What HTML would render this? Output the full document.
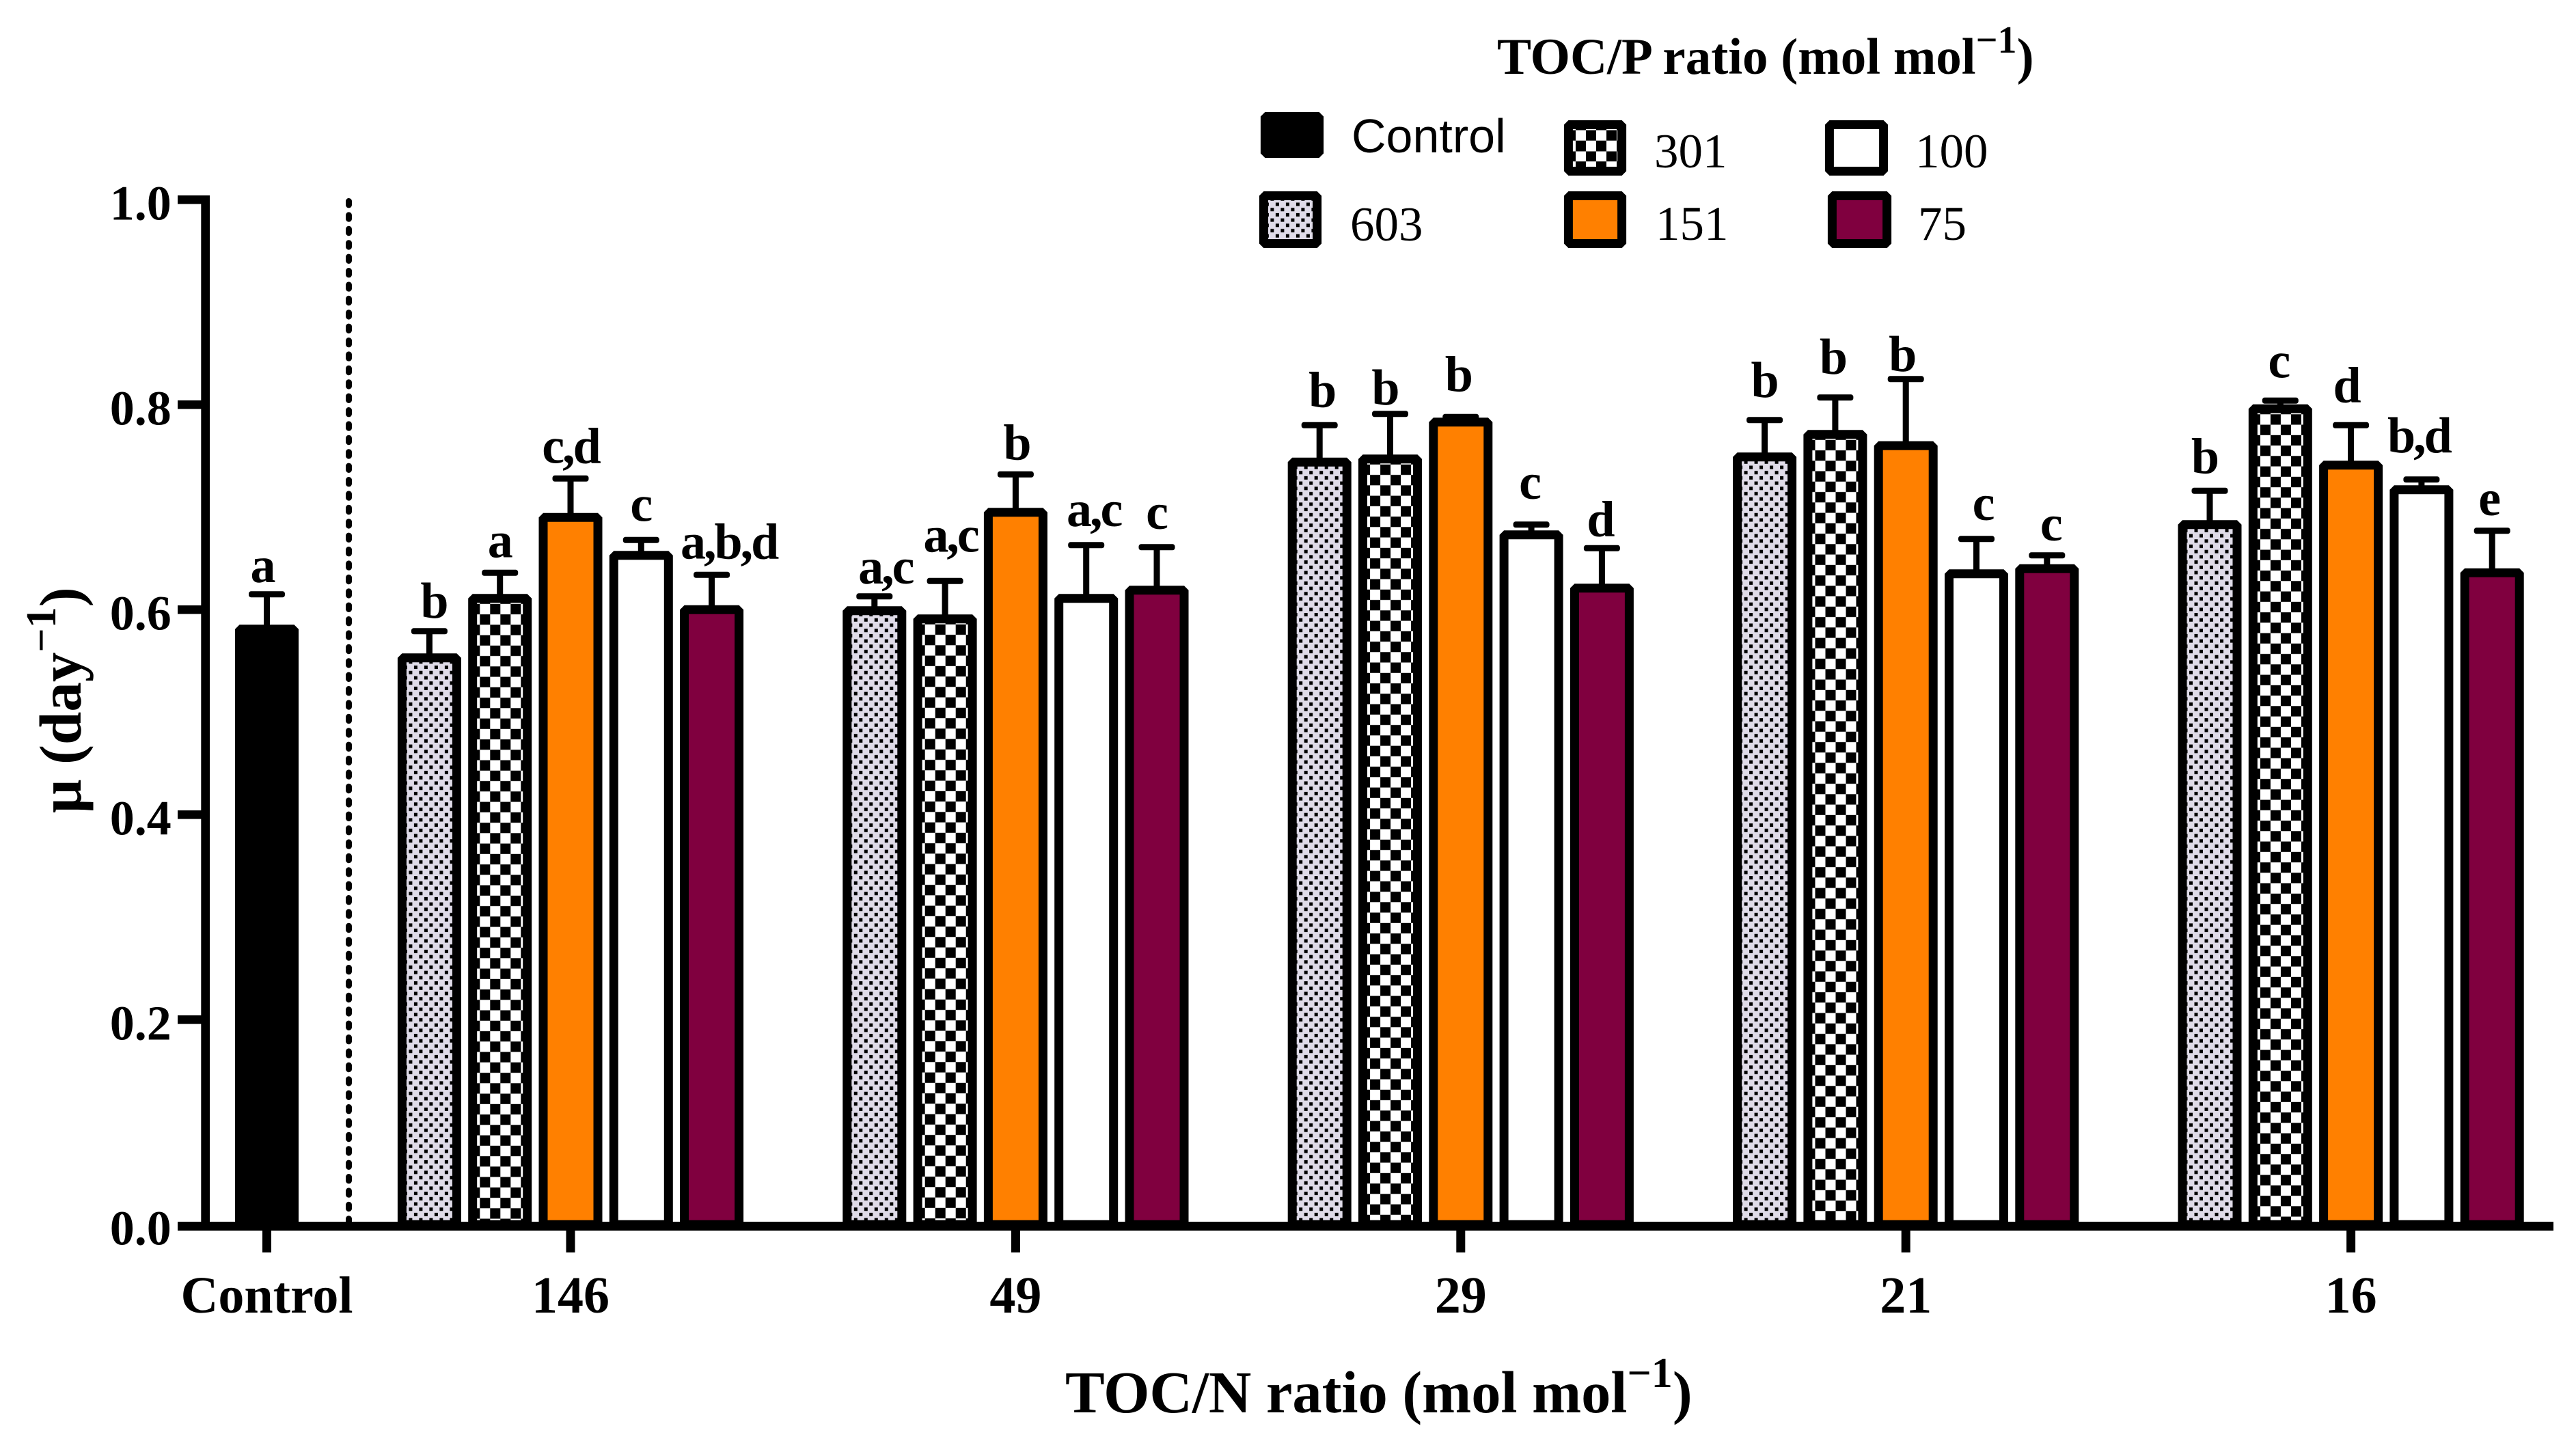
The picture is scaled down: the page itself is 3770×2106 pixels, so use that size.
<!DOCTYPE html>
<html lang="en">
<head>
<meta charset="utf-8">
<title>Growth rate by TOC/N and TOC/P ratio</title>
<style>
  html, body { margin: 0; padding: 0; background: #fff; }
  svg { display: block; }
  text { font-family: "Liberation Serif", serif; fill: #000; }
  .bold { font-weight: 700; }
  .tick { font-size: 72px; font-weight: 700; }
  .cat { font-size: 76px; font-weight: 700; }
  .letter { font-size: 74px; font-weight: 700; letter-spacing: -3px; }
  .leg { font-size: 71px; }
  .leg-sans { font-family: "Liberation Sans", sans-serif; font-size: 70px; }
</style>
</head>
<body>
<svg id="chart" xmlns="http://www.w3.org/2000/svg" width="3770" height="2106" viewBox="0 0 3770 2106">
  <defs>
    <pattern id="dots" patternUnits="userSpaceOnUse" width="15" height="15.4" patternTransform="translate(17.5 681.5)">
      <rect width="15" height="15.4" fill="#dfdbe8"/>
      <rect x="0" y="0" width="5" height="5" fill="#000"/>
      <rect x="7.5" y="7.7" width="5" height="5" fill="#000"/>
    </pattern>
    <pattern id="checker" patternUnits="userSpaceOnUse" width="30" height="30.5" patternTransform="translate(25.6 8)">
      <rect width="30" height="30.5" fill="#fff"/>
      <rect x="0" y="0" width="15" height="15.25" fill="#000"/>
      <rect x="15" y="15.25" width="15" height="15.25" fill="#000"/>
    </pattern>
  </defs>
  <rect width="3770" height="2106" fill="#fff"/>

  <g id="plot"></g>

  <text class="bold" x="1559" y="2067" font-size="86.5">TOC/N ratio (mol mol<tspan font-size="62" dy="-37">−1</tspan><tspan dy="37">)</tspan></text>
  <text class="bold" transform="translate(118 1190) rotate(-90)" font-size="87">μ (day<tspan font-size="62" dy="-37">−1</tspan><tspan dy="37">)</tspan></text>

  <g>
    <text class="bold" x="2191" y="108" font-size="75">TOC/P ratio (mol mol<tspan font-size="56" dy="-31">−1</tspan><tspan dy="31">)</tspan></text>

    <g>
      <rect x="1851.4" y="170.5" width="79.2" height="54" fill="#000" stroke="#000" stroke-width="13" stroke-linejoin="bevel"/>
      <text class="leg-sans" x="1978" y="223">Control</text>
    </g>
    <g>
      <g transform="translate(1849.4 0)">
        <rect x="0" y="286.5" width="78.2" height="70" fill="url(#dots)" stroke="#000" stroke-width="13" stroke-linejoin="bevel"/>
      </g>
      <text class="leg" x="1976" y="352">603</text>
    </g>
    <g>
      <g transform="translate(2295.4 182.5)">
        <rect x="0" y="0" width="78.2" height="68" fill="url(#checker)" stroke="#000" stroke-width="13" stroke-linejoin="bevel"/>
      </g>
      <text class="leg" x="2421" y="245">301</text>
    </g>
    <g>
      <rect x="2295.4" y="286.5" width="78.2" height="70" fill="#ff8000" stroke="#000" stroke-width="13" stroke-linejoin="bevel"/>
      <text class="leg" x="2423" y="351">151</text>
    </g>
    <g>
      <rect x="2677.4" y="182.5" width="79.2" height="68" fill="#fff" stroke="#000" stroke-width="13" stroke-linejoin="bevel"/>
      <text class="leg" x="2803" y="245">100</text>
    </g>
    <g>
      <rect x="2681.4" y="286.5" width="80.2" height="70" fill="#80003f" stroke="#000" stroke-width="13" stroke-linejoin="bevel"/>
      <text class="leg" x="2807" y="351">75</text>
    </g>
  </g>
</svg>

<script>
// ---- chart data ----
const yTickLabels = ['0.0', '0.2', '0.4', '0.6', '0.8', '1.0'];
const yTickValues = [0, 0.2, 0.4, 0.6, 0.8, 1.0];
const controlCategory = 'Control';
const categories = ['146', '49', '29', '21', '16'];
const seriesNames = ['603', '301', '151', '100', '75'];

const controlMean = 0.581;
const controlError = 0.034;
const controlLetter = 'a';

const mean603 = [0.553, 0.599, 0.744, 0.749, 0.683];
const mean301 = [0.611, 0.591, 0.747, 0.771, 0.796];
const mean151 = [0.690, 0.695, 0.783, 0.760, 0.741];
const mean100 = [0.653, 0.611, 0.673, 0.635, 0.717];
const mean75  = [0.600, 0.619, 0.621, 0.640, 0.636];

const error603 = [0.026, 0.014, 0.036, 0.036, 0.033];
const error301 = [0.025, 0.037, 0.044, 0.036, 0.008];
const error151 = [0.038, 0.037, 0.005, 0.065, 0.039];
const error100 = [0.015, 0.052, 0.010, 0.034, 0.010];
const error75  = [0.034, 0.042, 0.039, 0.013, 0.041];

const letters603 = ['b', 'a,c', 'b', 'b', 'b'];
const letters301 = ['a', 'a,c', 'b', 'b', 'c'];
const letters151 = ['c,d', 'b', 'b', 'b', 'd'];
const letters100 = ['c', 'a,c', 'c', 'c', 'b,d'];
const letters75  = ['a,b,d', 'c', 'd', 'c', 'e'];

const meanSeries = [mean603, mean301, mean151, mean100, mean75];
const errorSeries = [error603, error301, error151, error100, error75];
const letterSeries = [letters603, letters301, letters151, letters100, letters75];

(function draw() {
  // ---- axis functions ----
  const yZero = 1792.3, yPerUnit = 1500;
  const y = function (v) { return yZero - yPerUnit * v; };
  const groupX = function (i) { return 835 + 651.4 * i; };
  const barX = function (i, s) { return groupX(i) + (s - 2) * 103.3; };
  const controlX = 390.5;

  // annotation layout only: nudges of each letter relative to its own whisker cap
  const letterShift = [
    [6, 16, 3, -1, -8], [-1, 8, -8, -4, -3], [0, 1, -4, -6, -7], [-1, 11, -3, 9, -4], [25, -1, -3, 5, -5]
  ];
  const letterLift = [
    [20, 19, 27, 34, 26], [23, 43, 14, 35, 34], [23, 22, 38, 12, 34], [28, 28, 38, 28, 40], [24, 27, 18, 22, 23]
  ];

  const seriesFill = ['url(#dots)', 'url(#checker)', '#ff8000', '#ffffff', '#80003f'];
  const NS = 'http://www.w3.org/2000/svg';
  const plot = document.getElementById('plot');

  function make(tag, attrs, parent) {
    const node = document.createElementNS(NS, tag);
    Object.keys(attrs).forEach(function (k) { node.setAttribute(k, attrs[k]); });
    parent.appendChild(node);
    return node;
  }

  function drawBar(cx, mean, err, fill, letter, lx, lift, name) {
    const group = make('g', {}, plot);
    
    

    const halfWidth = 40;
    const top = y(mean), capY = y(mean + err);

    const whisker = make('rect', { x: cx - 4.5, y: capY, width: 9, height: top - capY, fill: '#000' }, group);
    
    

    const cap = make('rect', { x: cx - 26.5, y: capY - 4.5, width: 53, height: 9, rx: 3.5, fill: '#000' }, group);
    
    

    // checker pattern is anchored to the bar's top-left, dots to the bar's left only
    const originY = fill === 'url(#checker)' ? top : 0;
    const holder = make('g', { transform: 'translate(' + (cx - halfWidth) + ' ' + originY + ')' }, group);
    const rectTop = top - originY;
    const bar = make('rect', {
      x: 0, y: rectTop, width: halfWidth * 2, height: yZero - top,
      fill: fill, stroke: '#000', 'stroke-width': 13, 'stroke-linejoin': 'bevel'
    }, holder);
    
    

    const label = make('text', { x: lx, y: capY - lift, 'text-anchor': 'middle', class: 'letter' }, group);
    label.textContent = letter;
    
    
  }

  // dashed separator between control and treatments
  const separator = make('line', {
    x1: 510.5, x2: 510.5, y1: 294.5, y2: 1788, stroke: '#000', 'stroke-width': 9,
    'stroke-linecap': 'round', 'stroke-dasharray': '5.4 15'
  }, plot);
  
  

  // bars
  drawBar(controlX, controlMean, controlError, '#000000', controlLetter, controlX - 7, 18, 'control');
  categories.forEach(function (cat, i) {
    seriesNames.forEach(function (ser, s) {
      const cx = barX(i, s);
      drawBar(cx, meanSeries[s][i], errorSeries[s][i], seriesFill[s], letterSeries[s][i],
        cx + letterShift[s][i], letterLift[s][i], 'toc-n-' + cat + '-toc-p-' + ser);
    });
  });

  // y axis
  const yAxis = make('rect', { x: 294.3, y: 286, width: 12.7, height: 1515, fill: '#000' }, plot);
  
  

  yTickValues.forEach(function (v, i) {
    if (v > 0) {
      const tick = make('rect', { x: 260, y: y(v) - 6.3, width: 35, height: 12.6, fill: '#000' }, plot);
      
      
    }
    const t = make('text', { x: 250.7, y: y(v) + 29, 'text-anchor': 'end', class: 'tick' }, plot);
    t.textContent = yTickLabels[i];
    
    
  });

  // x axis
  const xAxis = make('rect', { x: 260, y: 1788, width: 3477, height: 13, fill: '#000' }, plot);
  
  

  function drawCategory(cx, text) {
    const tick = make('rect', { x: cx - 6.5, y: 1801, width: 13, height: 32, fill: '#000' }, plot);
    
    
    const t = make('text', { x: cx, y: 1921, 'text-anchor': 'middle', class: 'cat' }, plot);
    t.textContent = text;
    
    
  }
  drawCategory(controlX, controlCategory);
  categories.forEach(function (cat, i) { drawCategory(groupX(i), cat); });
})();
</script>
</body>
</html>
